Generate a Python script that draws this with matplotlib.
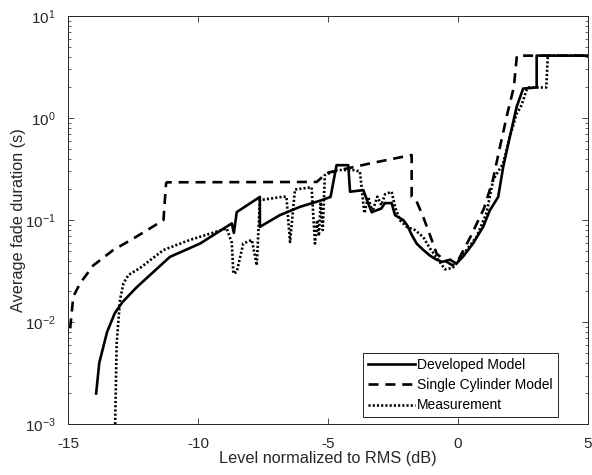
import numpy as np
import matplotlib
matplotlib.use("Agg")
import matplotlib.pyplot as plt
from matplotlib.ticker import LogLocator, NullFormatter

plt.rcParams['font.family'] = ['Liberation Sans', 'DejaVu Sans']
plt.rcParams['axes.unicode_minus'] = False

# Developed Model (solid)
dev_x = [-13.92, -13.8, -13.5, -13.2, -12.9, -12.36, -11.08, -9.92, -8.7, -8.62, -8.51,
         -7.62, -7.62, -6.85, -6.08, -5.31, -4.9, -4.67, -4.22, -4.15, -3.64, -3.45, -3.32,
         -2.95, -2.81, -2.55, -2.42, -2.10, -1.95, -1.78, -1.59, -1.33, -1.08, -0.82,
         -0.6, -0.3, -0.06, 0.2, 0.58, 0.97, 1.23, 1.55, 1.74, 2.0, 2.26, 2.51, 3.03, 3.03, 5.0]
dev_y = [0.002, 0.004, 0.008, 0.0123, 0.0158, 0.022, 0.0437, 0.059, 0.093, 0.075, 0.12,
         0.169, 0.086, 0.112, 0.135, 0.155, 0.169, 0.346, 0.346, 0.19, 0.197, 0.146, 0.12,
         0.13, 0.147, 0.147, 0.112, 0.1, 0.089, 0.072, 0.059, 0.051, 0.045, 0.041,
         0.039, 0.041, 0.0375, 0.044, 0.059, 0.086, 0.125, 0.169, 0.33, 0.66, 1.29, 1.95, 2.0, 4.1, 4.1]

# Single Cylinder Model (dashed)
cyl_x = [-14.92, -14.8, -14.54, -14.03, -13.26, -12.49, -11.33, -11.23, -11.2, -5.43,
         -5.05, -3.38, -2.49, -1.78, -1.78, -1.6, -1.35, -1.08, -0.82, -0.5, -0.2,
         0.0, 0.5, 1.0, 1.35, 1.6, 1.9, 2.15, 2.27, 5.0]
cyl_y = [0.0087, 0.0178, 0.024, 0.036, 0.051, 0.066, 0.1, 0.229, 0.235, 0.237,
         0.29, 0.36, 0.40, 0.435, 0.17, 0.155, 0.11, 0.072, 0.047, 0.04, 0.036,
         0.04, 0.07, 0.13, 0.25, 0.5, 1.1, 2.0, 4.1, 4.1]

# Measurement (dotted)
mea_x = [-13.19, -13.13, -13.0, -12.87, -12.68, -12.23, -11.33, -10.31, -8.9, -8.7, -8.64,
         -8.51, -8.26, -7.93, -7.74, -7.62, -6.72, -6.6, -6.46, -6.27, -5.63, -5.5, -5.42,
         -5.35, -5.28, -5.2, -5.12, -4.67, -4.03, -3.77, -3.6, -3.45, -3.3, -3.1, -2.95,
         -2.8, -2.55, -2.42, -2.23, -1.97, -1.65, -1.33, -1.08, -0.82, -0.5, -0.2, 0.06,
         0.33, 0.71, 1.1, 1.36, 1.74, 2.0, 2.26, 2.45, 2.64, 2.7, 3.4, 3.46, 5.0]
mea_y = [0.001, 0.0062, 0.0166, 0.024, 0.029, 0.034, 0.051, 0.064, 0.083, 0.06, 0.03,
         0.031, 0.059, 0.064, 0.036, 0.157, 0.17, 0.17, 0.061, 0.2, 0.21, 0.059, 0.1,
         0.07, 0.15, 0.08, 0.276, 0.31, 0.31, 0.30, 0.117, 0.169, 0.12, 0.17, 0.14,
         0.18, 0.19, 0.135, 0.1, 0.086, 0.08, 0.068, 0.053, 0.043, 0.033, 0.034, 0.041,
         0.051, 0.068, 0.117, 0.25, 0.36, 0.66, 1.11, 1.34, 1.88, 2.0, 2.0, 4.1, 4.1]

labels = ['Developed Model', 'Single Cylinder Model', 'Measurement']
axis_col = '#262626'

fig = plt.figure(figsize=(5.92, 4.75), dpi=100)
ax = fig.add_axes([0.115, 0.107, 0.878, 0.859])

ax.plot(dev_x, dev_y, color='black', lw=1.9, linestyle='-', label=labels[0])
ax.plot(cyl_x, cyl_y, color='black', lw=1.9, linestyle=(0, (3.8, 2.6)), label=labels[1])
ax.plot(mea_x, mea_y, color='black', lw=1.9, linestyle=(0, (0.8, 0.8)), label=labels[2])

ax.set_yscale('log')
ax.set_xlim(-15, 5)
ax.set_ylim(1e-3, 10)
ax.set_xticks([-15, -10, -5, 0, 5])
ax.yaxis.set_major_locator(LogLocator(base=10, numticks=10))
ax.yaxis.set_minor_locator(LogLocator(base=10, subs=np.arange(2, 10), numticks=10))
ax.yaxis.set_minor_formatter(NullFormatter())

ax.tick_params(which='both', direction='in', top=True, right=True, colors=axis_col,
               labelsize=11, labelcolor=axis_col)
ax.tick_params(which='major', length=4, width=0.6)
ax.tick_params(which='minor', length=2.2, width=0.5)
ax.tick_params(axis='x', which='major', pad=9)
ax.tick_params(axis='y', which='major', pad=9)
for s in ax.spines.values():
    s.set_color(axis_col)
    s.set_linewidth(0.7)

ax.set_xlabel('Level normalized to RMS (dB)', fontsize=11.7, color=axis_col, labelpad=0)
ax.set_ylabel('Average fade duration (s)', fontsize=11.7, color=axis_col, labelpad=-1)

leg = ax.legend(loc='lower right', bbox_to_anchor=(0.942, 0.017), fontsize=10,
                handlelength=3.4, handletextpad=0.15, borderpad=0.35, labelspacing=0.45,
                borderaxespad=0, fancybox=False, framealpha=1, edgecolor=axis_col)
leg.get_frame().set_linewidth(0.7)

fig.savefig('out.png', dpi=100)
